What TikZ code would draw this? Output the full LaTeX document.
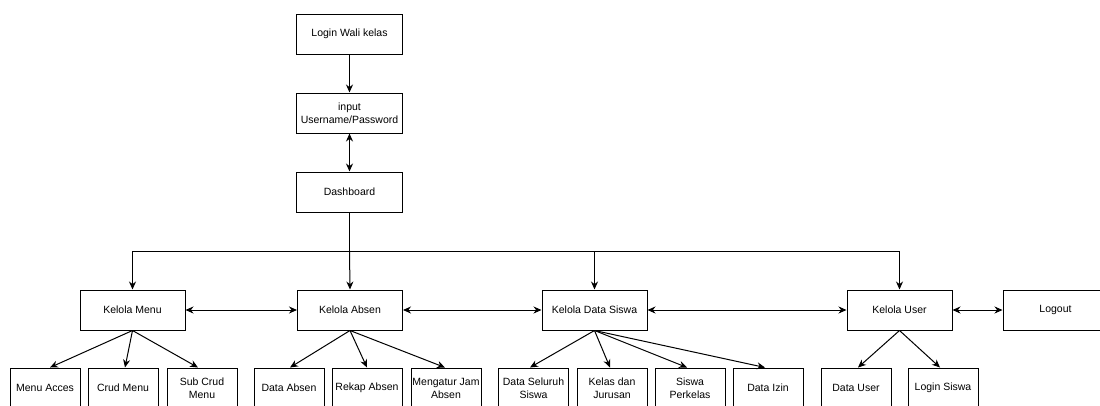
\documentclass[tikz,border=0pt]{standalone}
\usepackage{fontspec}
\setmainfont{Liberation Sans}
\usetikzlibrary{arrows.meta,calc}
\begin{document}
\begin{tikzpicture}[x=1pt,y=-1pt,
  box/.style={draw, line width=1pt, minimum width=105pt, minimum height=40pt, align=center,
    font=\fontsize{10.5}{13}\selectfont, inner sep=1pt},
  sbox/.style={box, minimum width=70pt},
  conn/.style={line width=1pt},
  arr/.style={conn, -{Stealth[length=8pt,width=7pt]}},
  darr/.style={conn, {Stealth[length=8pt,width=7pt]}-{Stealth[length=8pt,width=7pt]}}]
\useasboundingbox (0,0) rectangle (1100,405);
\clip (0,0) rectangle (1100,405);
% top chain
\node[box, minimum width=106pt] (login) at (349.5,34) {Login Wali kelas};
\node[box, minimum width=106pt] (input) at (349.5,113) {input\\Username/Password};
\node[box, minimum width=106pt] (dash) at (349.5,192) {Dashboard};
% second row
\node[box] (km) at (132.5,310) {Kelola Menu};
\node[box] (ka) at (350,310) {Kelola Absen};
\node[box] (kds) at (594.5,310) {Kelola Data Siswa};
\node[box] (ku) at (899.5,310) {Kelola User};
\node[box] (lo) at (1055.5,310) {Logout};
% bottom row
\node[sbox] (ma) at (45,388) {Menu Acces};
\node[sbox] (cm) at (123,388) {Crud Menu};
\node[sbox] (scm) at (202,388) {Sub Crud\\Menu};
\node[sbox] (da) at (289,388) {Data Absen};
\node[sbox] (ra) at (367,388) {Rekap Absen};
\node[sbox] (mja) at (446,388) {Mengatur Jam\\Absen};
\node[sbox] (dss) at (533.5,388) {Data Seluruh\\Siswa};
\node[sbox] (kdj) at (612,388) {Kelas dan\\Jurusan};
\node[sbox] (sp) at (690,388) {Siswa\\Perkelas};
\node[sbox] (di) at (768,388) {Data Izin};
\node[sbox] (du) at (856,388) {Data User};
\node[sbox] (ls) at (943,388) {Login Siswa};
% top connectors
\draw[arr] (login) -- (input);
\draw[darr] (input) -- (dash);
\coordinate (j) at (349.5,251);
\draw[conn] (dash.south) -- (j);
\draw[arr] (j) -| (km.north);
\draw[arr] (j) -- (ka.north);
\draw[arr] (j) -| (kds.north);
\draw[arr] (j) -| (ku.north);
% horizontal links
\draw[darr] (km) -- (ka);
\draw[darr] (ka) -- (kds);
\draw[darr] (kds) -- (ku);
\draw[darr] (ku) -- (lo);
% children
\draw[arr] (km.south) -- ($(ma.north)+(5,0)$);
\draw[arr] (km.south) -- ($(cm.north)+(2,0)$);
\draw[arr] (km.south) -- ($(scm.north)+(-4,0)$);
\draw[arr] (ka.south) -- ($(da.north)+(1,0)$);
\draw[arr] (ka.south) -- (ra.north);
\draw[arr] (ka.south) -- ($(mja.north)+(-1,0)$);
\draw[arr] (kds.south) -- ($(dss.north)+(-3.5,0)$);
\draw[arr] (kds.south) -- ($(kdj.north)+(-2,0)$);
\draw[arr] (kds.south) -- ($(sp.north)+(-3,0)$);
\draw[arr] (kds.south) -- ($(di.north)+(-3,0)$);
\draw[arr] (ku.south) -- ($(du.north)+(2,0)$);
\draw[arr] (ku.south) -- ($(ls.north)+(-3,0)$);
\end{tikzpicture}
\end{document}
